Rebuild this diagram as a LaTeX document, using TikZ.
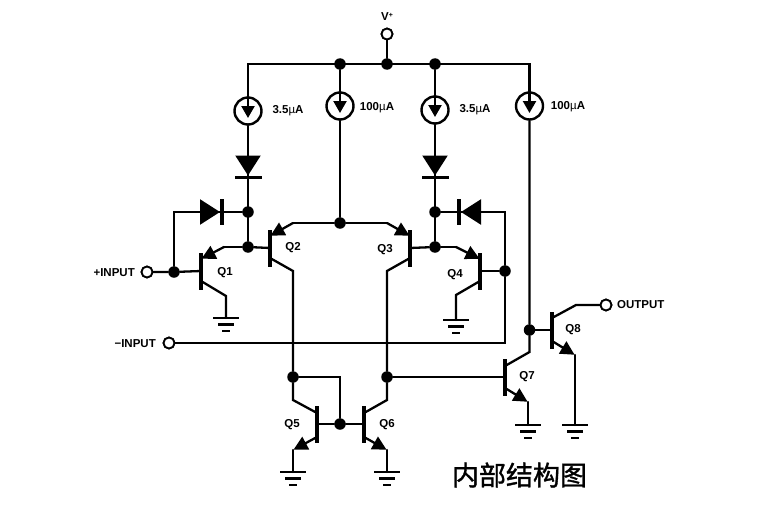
\documentclass[tikz,border=0pt]{standalone}
\usepackage{fontspec}
\setmainfont{Liberation Sans}
\newfontfamily\cjk[FakeBold=1.2]{Noto Sans CJK SC}
\usetikzlibrary{arrows.meta}
\tikzset{
  x=1pt,y=-1pt,
  wire/.style={line width=2.3pt,line join=miter,line cap=round},
  tipped/.style={wire,-{Triangle[length=14pt,width=14pt]},shorten >=0.5pt},
  srctip/.style={wire,-{Triangle[length=12pt,width=13pt]}},
  diotip/.style={wire,-{Triangle[length=20pt,width=25pt]},shorten >=2pt},
  dot/.style={circle,fill=black,inner sep=0pt,minimum size=11.5pt},
  term/.style={circle,draw=black,fill=white,line width=1.8pt,inner sep=0pt,minimum size=11pt},
  src/.style={circle,draw=black,line width=2.4pt,inner sep=0pt,minimum size=27pt},
  tbar/.style={draw=black,fill=black,inner sep=0pt,minimum width=2.3pt,minimum height=36pt,line width=0pt},
  dbarh/.style={draw=black,fill=black,inner sep=0pt,minimum width=26pt,minimum height=2.3pt,line width=0pt},
  dbarv/.style={draw=black,fill=black,inner sep=0pt,minimum width=2.3pt,minimum height=25pt,line width=0pt},
  lab/.style={font=\bfseries\fontsize{11.5}{13}\selectfont,inner sep=0pt},
  gnd/.pic={\draw[wire,line cap=butt] (-13,0)--(13,0) (-8,6.5)--(8,6.5) (-4,13)--(4,13);}
}
\begin{document}
\begin{tikzpicture}
\useasboundingbox (0,0) rectangle (765,519);
\fill[white] (0,0) rectangle (765,519);
% terminals and junctions
\node[term] (vp) at (387,34) {};
\node[dot] (j1) at (387,64) {};
\node[dot] (j2) at (340,64) {};
\node[dot] (j3) at (435,64) {};
\coordinate (cl) at (248,64);
\coordinate (cr) at (529.5,64);
\node[src] (s1) at (248,111) {};
\node[src] (s2) at (340,106) {};
\node[src] (s3) at (435,110) {};
\node[src] (s4) at (529.5,106) {};
\node[dbarh] (d1) at (248,177.5) {};
\node[dbarh] (d3) at (435,177.5) {};
\node[dbarv] (d2) at (222,212) {};
\node[dbarv] (d4) at (459,212) {};
\node[dot] (ja) at (248,212) {};
\node[dot] (jb) at (248,247) {};
\node[dot] (jc) at (435,212) {};
\node[dot] (jd) at (435,247) {};
\node[dot] (je) at (340,223) {};
\node[dot] (jf) at (174,272) {};
\node[dot] (jg) at (505,271) {};
\node[dot] (jh) at (293,377) {};
\node[dot] (ji) at (387,377) {};
\node[dot] (jj) at (340,424) {};
\node[dot] (jk) at (529.5,330) {};
\node[term] (pi) at (147,272) {};
\node[term] (ni) at (169,343) {};
\node[term] (ou) at (606,305) {};
% transistor bars
\node[tbar] (q1) at (201,271) {};
\node[tbar] (q2) at (270,248) {};
\node[tbar] (q3) at (410,248) {};
\node[tbar] (q4) at (480,271) {};
\node[tbar] (q5) at (317,424) {};
\node[tbar] (q6) at (364,424) {};
\node[tbar] (q7) at (505,377) {};
\node[tbar] (q8) at (552,330) {};
% bends
\coordinate (b1e) at (224,247);
\coordinate (b1c) at (226,296);
\coordinate (b2e) at (293,223);
\coordinate (b2c) at (293,271);
\coordinate (b3e) at (387,223);
\coordinate (b3c) at (387,271);
\coordinate (b4e) at (456,247);
\coordinate (b4c) at (456,295);
\coordinate (b5c) at (293,400);
\coordinate (b5e) at (293,450);
\coordinate (b6c) at (387,400);
\coordinate (b6e) at (387,450);
\coordinate (b7c) at (529.5,352);
\coordinate (b7e) at (528,402);
\coordinate (b8c) at (576,305);
\coordinate (b8e) at (575,355);
\coordinate (g1) at (226,318);
\coordinate (g4) at (456,320);
\coordinate (g5) at (293,472);
\coordinate (g6) at (387,472);
\coordinate (g7) at (528,425);
\coordinate (g8) at (575,425);
\coordinate (fb) at (340,377);
\coordinate (nc) at (505,343);
\coordinate (dl) at (174,212);
\coordinate (dr) at (505,212);
% supply
\draw[wire] (vp) -- (j1);
\draw[wire] (s1.north) -- (cl) -- (cr) -- (s4.north);
\draw[wire] (j2) -- (s2.north);
\draw[wire] (j3) -- (s3.north);
% current sources
\draw[srctip] (s1.north) -- ([yshift=-7pt]s1.center);
\draw[srctip] (s2.north) -- ([yshift=-7pt]s2.center);
\draw[srctip] (s3.north) -- ([yshift=-7pt]s3.center);
\draw[srctip] (s4.north) -- ([yshift=-7pt]s4.center);
% diodes
\draw[wire] (s1.south) -- (d1.center);
\draw[diotip] ([yshift=23pt]d1.center) -- (d1.center);
\draw[wire] (d1.center) -- (jb);
\draw[wire] (s3.south) -- (d3.center);
\draw[diotip] ([yshift=23pt]d3.center) -- (d3.center);
\draw[wire] (d3.center) -- (jd);
\draw[wire] (jf) -- (dl) -- (d2.center);
\draw[diotip] ([xshift=-25pt]d2.center) -- (d2.center);
\draw[wire] (d2.center) -- (ja);
\draw[wire] (jg) -- (dr) -- (d4.center);
\draw[diotip] ([xshift=25pt]d4.center) -- (d4.center);
\draw[wire] (d4.center) -- (jc);
% Q1
\draw[wire] (pi) -- (jf) -- (q1.center);
\draw[wire] (jb) -- (b1e);
\draw[tipped] (b1e) -- ([yshift=12pt]q1.center);
\draw[wire] ([yshift=-10pt]q1.center) -- (b1c) -- (g1);
\pic at (g1) {gnd};
% Q2
\draw[wire] (jb) -- (q2.center);
\draw[wire] (je) -- (b2e);
\draw[tipped] (b2e) -- ([yshift=12pt]q2.center);
\draw[wire] ([yshift=-10pt]q2.center) -- (b2c) -- (jh);
% Q3
\draw[wire] (jd) -- (q3.center);
\draw[wire] (je) -- (b3e);
\draw[tipped] (b3e) -- ([yshift=12pt]q3.center);
\draw[wire] ([yshift=-10pt]q3.center) -- (b3c) -- (ji);
% tail current
\draw[wire] (s2.south) -- (je);
% Q4
\draw[wire] (jd) -- (b4e);
\draw[tipped] (b4e) -- ([yshift=12pt]q4.center);
\draw[wire] (jg) -- (q4.center);
\draw[wire] ([yshift=-10pt]q4.center) -- (b4c) -- (g4);
\pic at (g4) {gnd};
% -input
\draw[wire] (ni) -- (nc) -- (jg);
% Q5, Q6
\draw[wire] (jh) -- (fb) -- (jj);
\draw[wire] (jh) -- (b5c) -- ([yshift=11pt]q5.center);
\draw[wire] (ji) -- (b6c) -- ([yshift=11pt]q6.center);
\draw[wire] (q5.center) -- (jj) -- (q6.center);
\draw[tipped] ([yshift=-13pt]q5.center) -- (b5e);
\draw[tipped] ([yshift=-13pt]q6.center) -- (b6e);
\draw[wire] (b5e) -- (g5);
\draw[wire] (b6e) -- (g6);
\pic at (g5) {gnd};
\pic at (g6) {gnd};
% Q7, Q8
\draw[wire] (ji) -- (q7.center);
\draw[wire] (s4.south) -- (jk) -- (b7c) -- ([yshift=11pt]q7.center);
\draw[tipped] ([yshift=-11pt]q7.center) -- (b7e);
\draw[wire] (b7e) -- (g7);
\pic at (g7) {gnd};
\draw[wire] (jk) -- (q8.center);
\draw[wire] ([yshift=12pt]q8.center) -- (b8c) -- (ou);
\draw[tipped] ([yshift=-11pt]q8.center) -- (b8e);
\draw[wire] (b8e) -- (g8);
\pic at (g8) {gnd};
% redraw terminals on top
\node[term] at (vp) {};
\node[term] at (pi) {};
\node[term] at (ni) {};
\node[term] at (ou) {};
% labels
\node[lab] (lv) at (387,17) {V\raisebox{3pt}{\fontsize{7}{8}\selectfont +}};
\node[lab] (l1) at (288,111) {3.5{\mdseries µ}A};
\node[lab] (l2) at (377,108) {100{\mdseries µ}A};
\node[lab] (l3) at (475,110) {3.5{\mdseries µ}A};
\node[lab] (l4) at (568,107) {100{\mdseries µ}A};
\node[lab,anchor=east] (lp) at (135,273) {+INPUT};
\node[lab,anchor=east] (ln) at (156,344) {−INPUT};
\node[lab,anchor=west] (lo) at (617,305) {OUTPUT};
\node[lab] (t1) at (225,273) {Q1};
\node[lab] (t2) at (293,248) {Q2};
\node[lab] (t3) at (385,250) {Q3};
\node[lab] (t4) at (455,275) {Q4};
\node[lab] (t5) at (292,425) {Q5};
\node[lab] (t6) at (387,425) {Q6};
\node[lab] (t7) at (527,377) {Q7};
\node[lab] (t8) at (573,330) {Q8};
\node[inner sep=0pt,font=\cjk\fontsize{27}{30}\selectfont] (ti) at (519.5,475) {内部结构图};
\end{tikzpicture}
\end{document}
